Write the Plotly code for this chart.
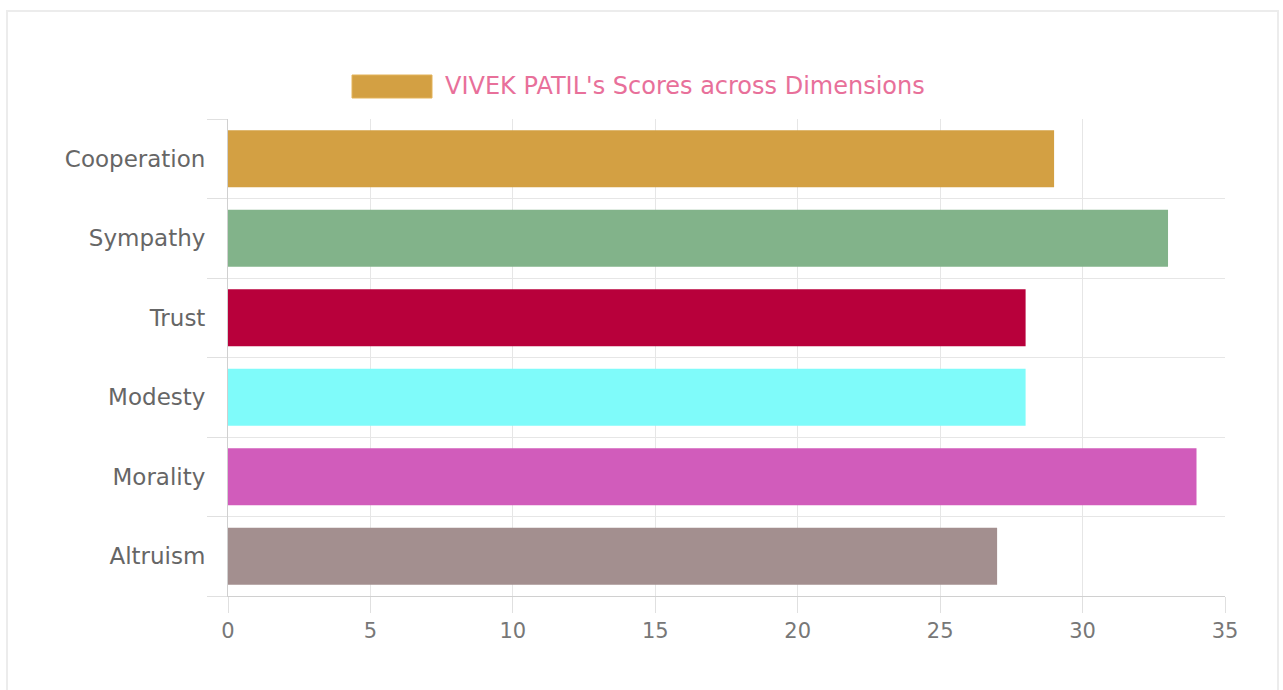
import plotly.graph_objects as go

categories = ["Cooperation", "Sympathy", "Trust", "Modesty", "Morality", "Altruism"]
scores = [29, 33, 28, 28, 34, 27]
bar_colors = ["#d3a043", "#82b38a", "#b8003b", "#7ffbfa", "#d15cbb", "#a38f8f"]
x_ticks = [0, 5, 10, 15, 20, 25, 30, 35]
legend_label = "VIVEK PATIL's Scores across Dimensions"

W, H = 1283, 690
L, R, T, B = 228, 1225, 119, 596
pw, ph = R - L, B - T

def px(x):
    return (x - L) / pw

def py(y):
    return (B - y) / ph

fig = go.Figure()
fig.add_trace(go.Bar(
    x=scores, y=categories, orientation="h",
    marker=dict(color=bar_colors, line=dict(width=0)),
    name=legend_label, showlegend=False,
))

font_family = "DejaVu Sans, Liberation Sans, Arial, sans-serif"

fig.update_layout(
    width=W, height=H,
    margin=dict(l=L, r=W - R, t=T, b=H - B, pad=0),
    paper_bgcolor="white", plot_bgcolor="white",
    bargap=0.28,
    font=dict(family=font_family, color="#666666"),
    xaxis=dict(
        range=[0, 35], tickvals=x_ticks, ticktext=[str(v) for v in x_ticks],
        showgrid=True, gridcolor="#e6e6e6", gridwidth=1,
        showline=True, linecolor="#d0d0d0", linewidth=1,
        ticks="outside", ticklen=16, tickcolor="#e0e0e0",
        tickfont=dict(size=21, color="#777777"),
        zeroline=False, fixedrange=True,
    ),
    yaxis=dict(
        type="category",
        categoryorder="array", categoryarray=categories[::-1],
        tickson="boundaries",
        showgrid=True, gridcolor="#e6e6e6", gridwidth=1,
        showline=True, linecolor="#d0d0d0", linewidth=1,
        ticks="outside", ticklen=20, tickcolor="#e0e0e0",
        tickfont=dict(size=23, color="#666666"),
        ticklabelstandoff=17,
        zeroline=False, fixedrange=True,
    ),
    shapes=[
        dict(type="rect", xref="paper", yref="paper",
             x0=px(7), x1=px(1278), y0=py(700), y1=py(11),
             line=dict(color="#ececec", width=2), fillcolor="rgba(0,0,0,0)", layer="below"),
        dict(type="rect", xref="paper", yref="paper",
             x0=px(352), x1=px(432), y0=py(98), y1=py(75),
             line=dict(color="#e3b35a", width=1), fillcolor=bar_colors[0]),
    ],
    annotations=[
        dict(text=legend_label, xref="paper", yref="paper",
             x=px(443), y=py(86), xanchor="left", yanchor="middle",
             showarrow=False,
             font=dict(family=font_family, size=24, color="#e8709a")),
    ],
)

fig.write_html("out.html")
